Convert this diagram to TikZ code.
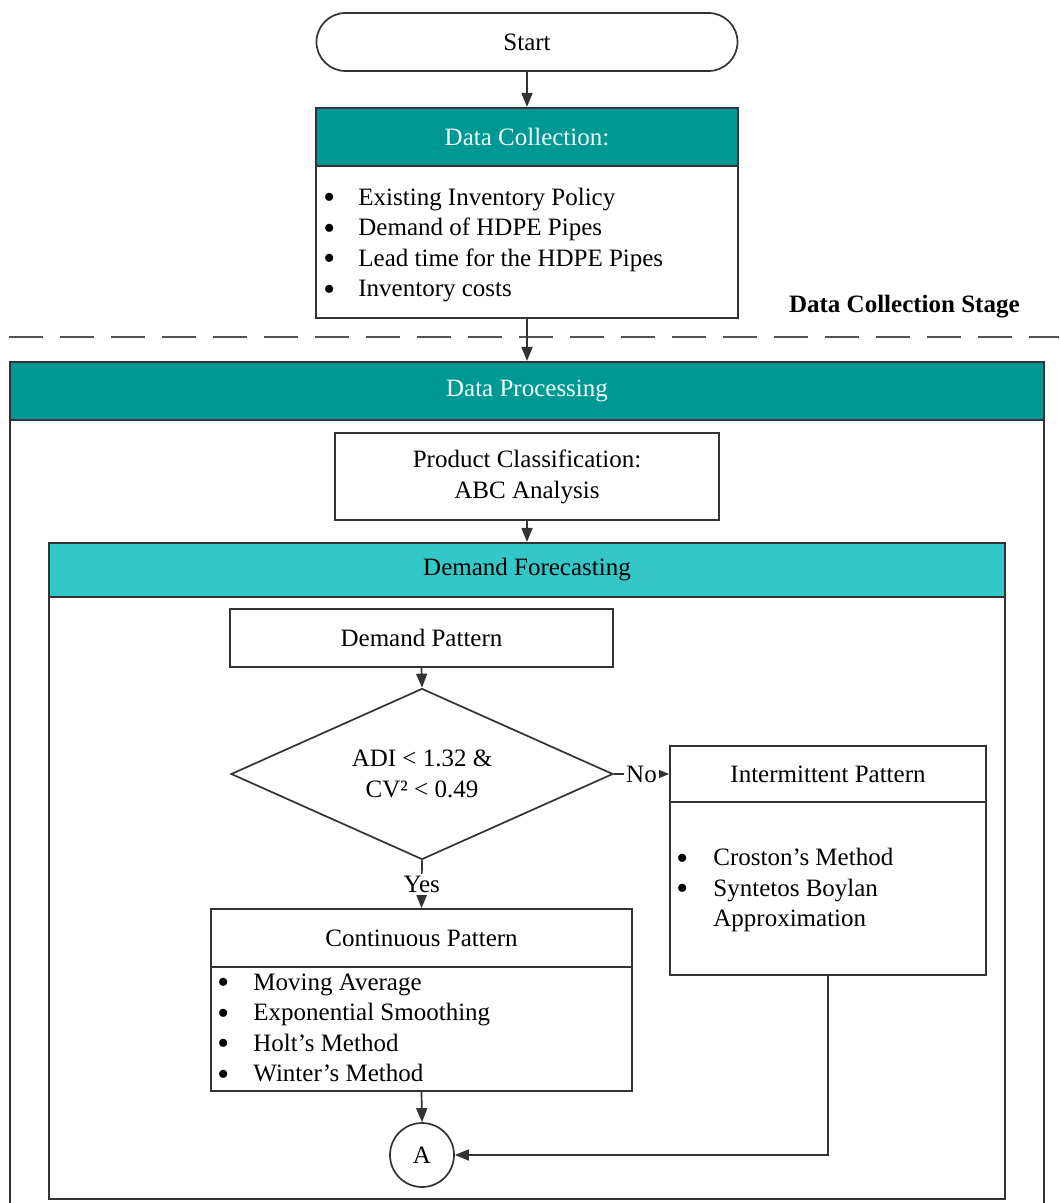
\documentclass[tikz,border=0pt]{standalone}
\usepackage{fontspec}
\setmainfont{Liberation Serif}
\usetikzlibrary{shapes.geometric,arrows.meta}
\definecolor{tealdark}{HTML}{009893}
\definecolor{teallight}{HTML}{33C7C8}
\definecolor{linecol}{HTML}{333333}
\definecolor{headtext}{HTML}{EFFFFF}
\newcommand\dgfont{\fontsize{12.5}{15.2}\selectfont}
\newcommand\blt{\smash{\raisebox{-1.7pt}{\scalebox{1.35}{\textbullet}}}}
\begin{document}
\begin{tikzpicture}[x=0.5pt,y=-0.5pt,
  box/.style={draw=linecol,line width=0.85pt,fill=white,inner sep=0pt,align=center,font=\dgfont},
  darkhead/.style={box,fill=tealdark,text=headtext,line width=1.1pt},
  lighthead/.style={box,fill=teallight,text=black,line width=1.1pt},
  arr/.style={draw=linecol,line width=0.85pt,-{Triangle[length=7pt,width=5.5pt]}},
  lbl/.style={fill=white,inner sep=1pt,font=\dgfont},
  itemlist/.style={anchor=west,inner sep=0pt,align=left,font=\dgfont},
  stagelbl/.style={inner sep=0pt,font=\dgfont\bfseries}]
\useasboundingbox (0,0) rectangle (1059,1203);

% --- data collection stage ---
\node[box,rounded corners=14.5pt,minimum width=210.5pt,minimum height=29pt] (start) at (527,42) {Start};
\node[box,minimum width=211pt,minimum height=76pt] (dcbody) at (527,242) {};
\node[darkhead,minimum width=211pt,minimum height=29pt] (dchead) at (527,137) {Data Collection:};
\node[itemlist] (dclist) at (323,245) {\begin{tabular}{@{}p{17.5pt}@{}l@{}}
  \blt & Existing Inventory Policy\\
  \blt & Demand of HDPE Pipes\\
  \blt & Lead time for the HDPE Pipes\\
  \blt & Inventory costs
\end{tabular}};
\node[stagelbl,anchor=east] (stage) at (1020,307) {Data Collection Stage};

% stage separator
\draw[draw=linecol!85,line width=1.3pt,dash pattern=on 17pt off 8.5pt] (9,337) -- (1059,337);

% --- data processing container ---
\node[box,minimum width=517pt,minimum height=400pt] (dpbody) at (527,820) {};
\node[darkhead,minimum width=517pt,minimum height=29pt] (dphead) at (527,391) {Data Processing};

\node[box,minimum width=192pt,minimum height=43.5pt] (prod) at (527,476.5) {Product Classification:\\[0.3pt]ABC Analysis};

% --- demand forecasting container ---
\node[box,minimum width=478pt,minimum height=301pt] (dfbody) at (527,898) {};
\node[lighthead,minimum width=478pt,minimum height=27pt] (dfhead) at (527,570) {Demand Forecasting};

\node[box,minimum width=191.5pt,minimum height=29pt] (dpat) at (421.5,638) {Demand Pattern};
\node[box,diamond,shape aspect=2.234,minimum width=191pt,minimum height=85.5pt] (dec) at (422,774) {ADI < 1.32 \&\\CV² < 0.49};

% intermittent pattern
\node[box,minimum width=158pt,minimum height=86.5pt] (interbody) at (828,888.5) {};
\node[box,minimum width=158pt,minimum height=28pt] (interhead) at (828,774) {Intermittent Pattern};
\node[itemlist] (interlist) at (676,890) {\begin{tabular}{@{}p{18.5pt}@{}l@{}}
  \blt & Croston’s Method\\
  \blt & Syntetos Boylan\\
       & Approximation
\end{tabular}};

% continuous pattern
\node[box,minimum width=210.5pt,minimum height=62pt] (contbody) at (421.5,1029) {};
\node[box,minimum width=210.5pt,minimum height=29pt] (conthead) at (421.5,938) {Continuous Pattern};
\node[itemlist] (contlist) at (217,1030) {\begin{tabular}{@{}p{18pt}@{}l@{}}
  \blt & Moving Average\\
  \blt & Exponential Smoothing\\
  \blt & Holt’s Method\\
  \blt & Winter’s Method
\end{tabular}};

% off-page connector
\node[box,circle,minimum size=32pt] (A) at (422,1155) {A};

% --- connectors ---
\draw[arr] (start.south) -- (dchead.north);
\draw[arr] (dcbody.south) -- (dphead.north);
\draw[arr] (prod.south) -- (dfhead.north);
\draw[arr] (dpat.south) -- (dec.north);
\draw[arr] (dec.east) -- node[lbl] {No} (interhead.west);
\draw[arr] (dec.south) -- node[lbl] {Yes} (conthead.north);
\draw[arr] (contbody.south) -- (A.north);
\draw[arr] (interbody.south) |- (A.east);
\end{tikzpicture}
\end{document}
